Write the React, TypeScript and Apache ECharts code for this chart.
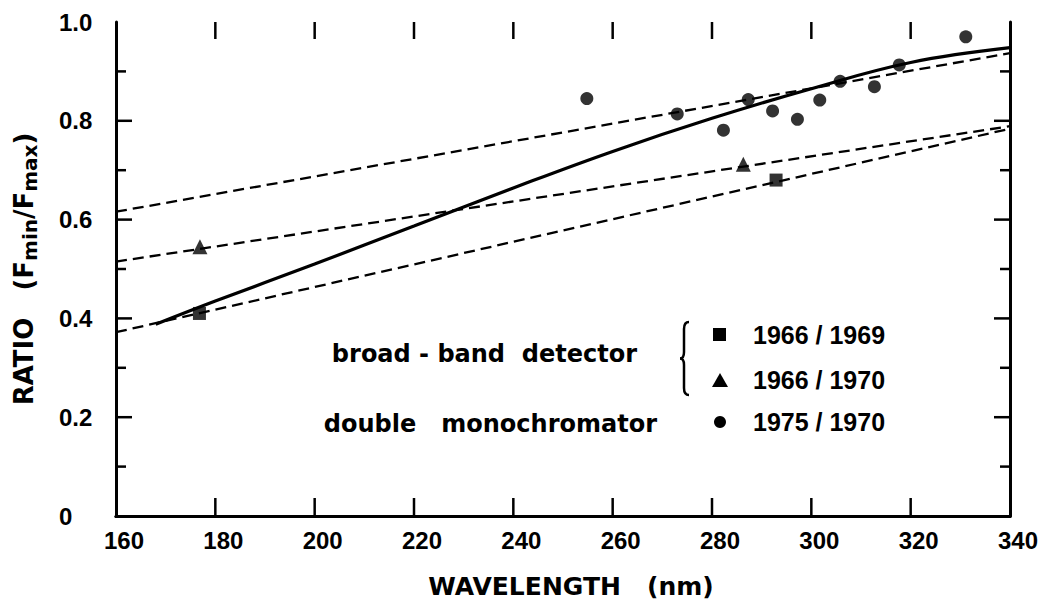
import React, { useEffect, useRef } from "react";
import * as echarts from "echarts";

const xMin = 160;
const xMax = 340;
const xStep = 20;
const yMin = 0;
const yMax = 1;
const yStep = 0.2;

const xTickValues = [180, 200, 220, 240, 260, 280, 300, 320];
const yMajorTicks = [0.2, 0.4, 0.6, 0.8];
const yMinorTicks = [0.1, 0.3, 0.5, 0.7, 0.9];

const circleX = [254.8, 273.0, 282.3, 287.3, 292.2, 297.2, 301.7, 305.8, 312.7, 317.7, 331.1];
const circleY = [0.845, 0.814, 0.781, 0.843, 0.82, 0.803, 0.842, 0.88, 0.869, 0.913, 0.97];
const triangleX = [176.9, 286.3];
const triangleY = [0.545, 0.712];
const squareX = [176.8, 292.9];
const squareY = [0.41, 0.68];

const dashX = [160, 340];
const dashTopY = [0.616, 0.937];
const dashMidY = [0.515, 0.789];
const dashLowY = [0.372, 0.784];

const curveX = [168, 180, 200, 220, 240, 260, 280, 300, 320, 340];
const curveY = [0.388, 0.435, 0.51, 0.587, 0.664, 0.738, 0.805, 0.865, 0.918, 0.948];

const groupLabels = ["broad - band  detector", "double   monochromator"];
const yearLabels = ["1966 / 1969", "1966 / 1970", "1975 / 1970"];

const xTitle = "WAVELENGTH   (nm)";

const NUM_FONT = "'Liberation Sans', Arial, sans-serif";
const WORD_FONT = "'DejaVu Sans', sans-serif";

const CHART_W = 1059;
const CHART_H = 608;
const GRID = { left: 116, right: 49, top: 22, bottom: 92 };

const zip = (xs: number[], ys: number[]) => xs.map((x, i) => [x, ys[i]]);

export default function App() {
  const ref = useRef<HTMLDivElement>(null);

  useEffect(() => {
    document.body.style.margin = "0";
    if (!ref.current) return;
    const chart = echarts.init(ref.current, undefined, { renderer: "svg" });

    const dashStyle = () => ({ color: "#000", width: 2.3, type: [11, 6] as any });
    const axisLineStyle = () => ({ show: true, lineStyle: { color: "#000", width: 3 } });
    const braceStroke = () => ({ stroke: "#000", lineWidth: 2.5, fill: "none" });

    // tick lengths (pixels) converted to data units of the plot
    const plotW = CHART_W - GRID.left - GRID.right;
    const plotH = CHART_H - GRID.top - GRID.bottom;
    const pxToX = (px: number) => (px * (xMax - xMin)) / plotW;
    const pxToY = (px: number) => (px * (yMax - yMin)) / plotH;

    const tickSeries: any[] = [];
    const addTick = (pts: number[][]) =>
      tickSeries.push({
        type: "line",
        data: pts,
        symbol: "none",
        silent: true,
        clip: false,
        z: 5,
        lineStyle: { color: "#000", width: 2.5, cap: "butt" },
      });
    xTickValues.forEach((v) => {
      addTick([[v, yMin], [v, yMin + pxToY(18)]]);
      addTick([[v, yMax], [v, yMax - pxToY(17)]]);
    });
    yMajorTicks.forEach((v) => {
      addTick([[xMin, v], [xMin + pxToX(16), v]]);
      addTick([[xMax, v], [xMax - pxToX(16), v]]);
    });
    yMinorTicks.forEach((v) => {
      addTick([[xMin, v], [xMin + pxToX(10), v]]);
      addTick([[xMax, v], [xMax - pxToX(10), v]]);
    });

    const legendEls: any[] = [
      {
        type: "text",
        x: 637,
        y: 354,
        style: {
          text: groupLabels[0],
          fill: "#000",
          fontFamily: WORD_FONT,
          fontWeight: "bold",
          fontSize: 24,
          textAlign: "right",
          textVerticalAlign: "middle",
        },
      },
      {
        type: "text",
        x: 657,
        y: 424,
        style: {
          text: groupLabels[1],
          fill: "#000",
          fontFamily: WORD_FONT,
          fontWeight: "bold",
          fontSize: 24,
          textAlign: "right",
          textVerticalAlign: "middle",
        },
      },
      { type: "bezierCurve", shape: { x1: 689, y1: 322, cpx1: 684, cpy1: 322, x2: 684, y2: 329 }, style: braceStroke() },
      { type: "line", shape: { x1: 684, y1: 329, x2: 684, y2: 352 }, style: braceStroke() },
      { type: "bezierCurve", shape: { x1: 684, y1: 352, cpx1: 684, cpy1: 358.5, x2: 680, y2: 358.5 }, style: braceStroke() },
      { type: "bezierCurve", shape: { x1: 680, y1: 358.5, cpx1: 684, cpy1: 358.5, x2: 684, y2: 365 }, style: braceStroke() },
      { type: "line", shape: { x1: 684, y1: 365, x2: 684, y2: 388 }, style: braceStroke() },
      { type: "bezierCurve", shape: { x1: 684, y1: 388, cpx1: 684, cpy1: 395, x2: 689, y2: 395 }, style: braceStroke() },
      { type: "rect", shape: { x: 713, y: 328, width: 13, height: 13 }, style: { fill: "#000" } },
      {
        type: "polygon",
        shape: { points: [[712, 387], [728, 387], [720, 373]] },
        style: { fill: "#000" },
      },
      { type: "circle", shape: { cx: 720, cy: 422, r: 6 }, style: { fill: "#000" } },
      ...yearLabels.map((t, i) => ({
        type: "text",
        x: 753,
        y: [335, 380, 422][i],
        style: {
          text: t,
          fill: "#000",
          fontFamily: NUM_FONT,
          fontWeight: "bold",
          fontSize: 25,
          textAlign: "left",
          textVerticalAlign: "middle",
        },
      })),
    ];

    const option: any = {
      animation: false,
      grid: { ...GRID },
      xAxis: [
        {
          type: "value",
          position: "bottom",
          min: xMin,
          max: xMax,
          interval: xStep,
          axisLine: axisLineStyle(),
          splitLine: { show: false },
          axisTick: { show: false },
          axisLabel: {
            show: true,
            color: "#000",
            fontFamily: NUM_FONT,
            fontWeight: "bold",
            fontSize: 24,
            margin: 12,
            padding: [0, 0, 0, 16],
          },
          name: xTitle,
          nameLocation: "middle",
          nameGap: 58,
          nameTextStyle: {
            color: "#000",
            fontFamily: WORD_FONT,
            fontWeight: "bold",
            fontSize: 25,
            padding: [0, 0, 0, 16],
          },
        },
        {
          type: "value",
          position: "top",
          min: xMin,
          max: xMax,
          interval: xStep,
          axisLine: axisLineStyle(),
          splitLine: { show: false },
          axisTick: { show: false },
          axisLabel: { show: false },
        },
      ],
      yAxis: [
        {
          type: "value",
          position: "left",
          min: yMin,
          max: yMax,
          interval: yStep,
          axisLine: axisLineStyle(),
          splitLine: { show: false },
          axisTick: { show: false },
          axisLabel: {
            show: true,
            color: "#000",
            fontFamily: NUM_FONT,
            fontWeight: "bold",
            fontSize: 24,
            align: "left",
            margin: 57,
            formatter: (v: number) => (v === 0 ? "0" : v.toFixed(1)),
          },
          name: "{t|RATIO   (F}{s|min}{t|/F}{s|max}{t|)}",
          nameLocation: "middle",
          nameRotate: 90,
          nameGap: 76,
          nameTextStyle: {
            color: "#000",
            rich: {
              t: { fontFamily: WORD_FONT, fontWeight: "bold", fontSize: 26, lineHeight: 32, color: "#000" },
              s: {
                fontFamily: WORD_FONT,
                fontWeight: "bold",
                fontSize: 20,
                lineHeight: 19,
                verticalAlign: "bottom",
                color: "#000",
              },
            },
          },
        },
        {
          type: "value",
          position: "right",
          min: yMin,
          max: yMax,
          interval: yStep,
          axisLine: axisLineStyle(),
          splitLine: { show: false },
          axisTick: { show: false },
          axisLabel: { show: false },
        },
      ],
      series: [
        ...tickSeries,
        { name: "dash-top", type: "line", data: zip(dashX, dashTopY), symbol: "none", lineStyle: dashStyle() },
        { name: "dash-mid", type: "line", data: zip(dashX, dashMidY), symbol: "none", lineStyle: dashStyle() },
        { name: "dash-low", type: "line", data: zip(dashX, dashLowY), symbol: "none", lineStyle: dashStyle() },
        {
          name: "fit",
          type: "line",
          data: zip(curveX, curveY),
          symbol: "none",
          smooth: 0.4,
          lineStyle: { color: "#000", width: 3.2 },
        },
        {
          name: "1975/1970",
          type: "scatter",
          data: zip(circleX, circleY),
          symbol: "circle",
          symbolSize: 13,
          itemStyle: { color: "#000" },
        },
        {
          name: "1966/1970",
          type: "scatter",
          data: zip(triangleX, triangleY),
          symbol: "triangle",
          symbolSize: 15,
          itemStyle: { color: "#000" },
        },
        {
          name: "1966/1969",
          type: "scatter",
          data: zip(squareX, squareY),
          symbol: "rect",
          symbolSize: 13,
          itemStyle: { color: "#000" },
        },
      ],
      graphic: legendEls,
    };

    chart.setOption(option);
    return () => chart.dispose();
  }, []);

  return <div ref={ref} style={{ width: CHART_W, height: CHART_H }} />;
}
